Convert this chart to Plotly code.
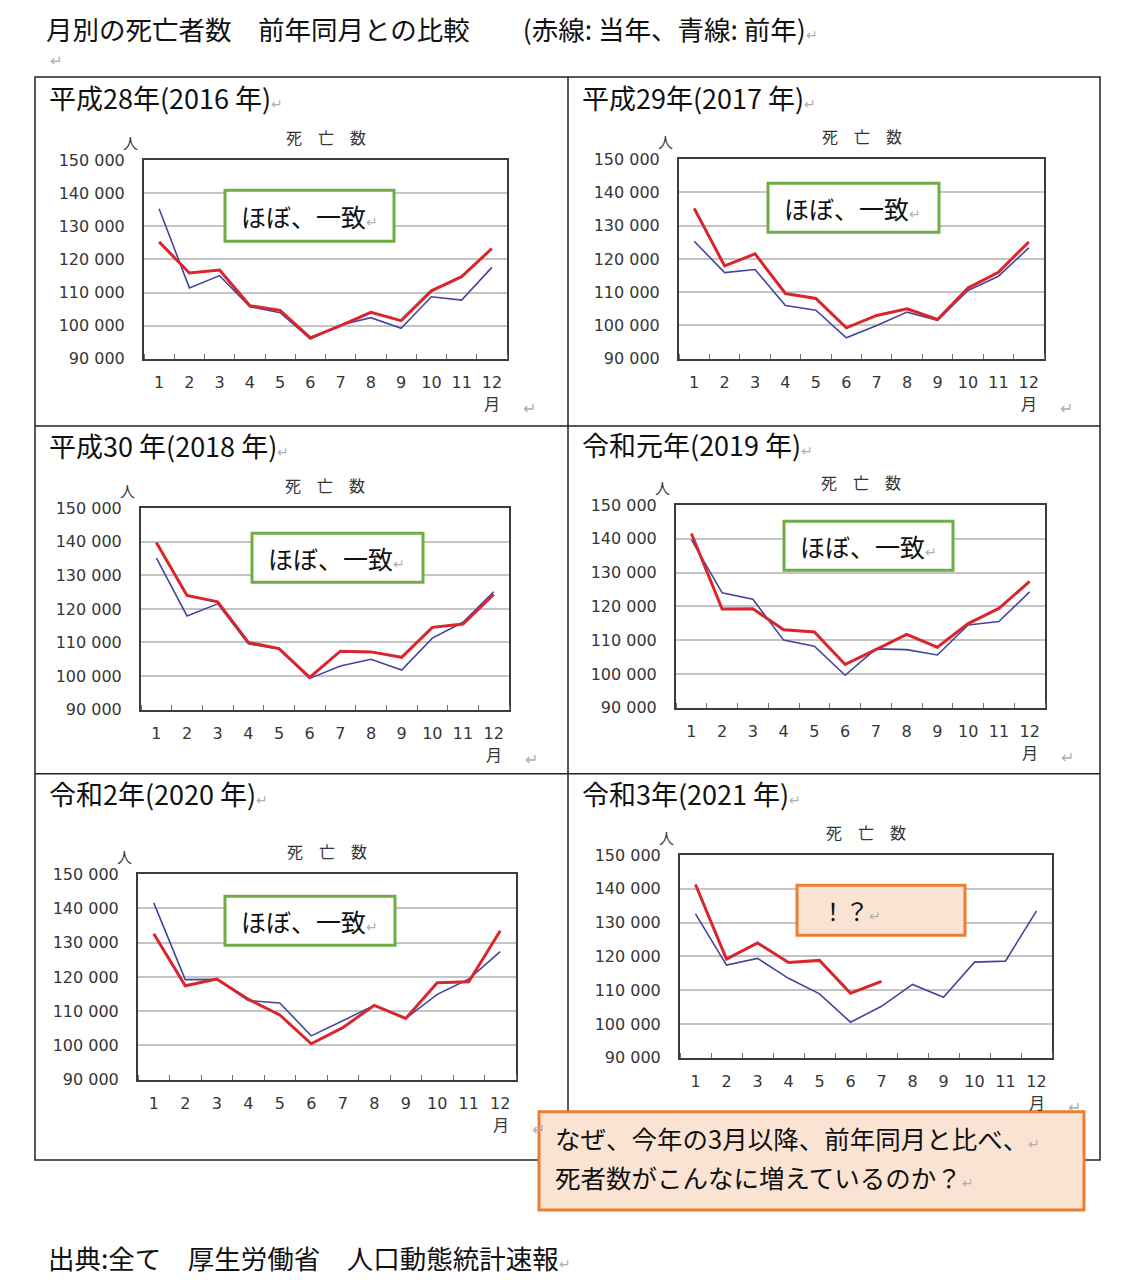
import plotly.graph_objects as go

# page has an 8px body margin; positions below are page pixels of the reference,
# and the vertical ones go through ym() which corrects for how the shot comes out
OFF = 8
W, H = 1142 - 2 * OFF, 1280

months = list(range(1, 13))

# monthly deaths (people)
d2015 = [135300, 111400, 115100, 105700, 103900, 95900, 100200, 102400, 99200, 108700, 107700, 117600]
d2016 = [125300, 115900, 116800, 106000, 104600, 96300, 100000, 104000, 101500, 110500, 114800, 123300]
d2017 = [135200, 117900, 121500, 109600, 108100, 99300, 103000, 105000, 101800, 111300, 116000, 125100]
d2018 = [139800, 124000, 122100, 110000, 108200, 99600, 107400, 107200, 105600, 114500, 115500, 124300]
d2019 = [141600, 119200, 119300, 113100, 112400, 102800, 107200, 111700, 107900, 114900, 119400, 127400]
d2020 = [132600, 117400, 119400, 113500, 108900, 100500, 105200, 111700, 107900, 118300, 118600, 133500]
d2021 = [141300, 119200, 124000, 118200, 118800, 109100, 112600]

panel_titles = ["平成28年(2016 年)", "平成29年(2017 年)", "平成30 年(2018 年)",
                "令和元年(2019 年)", "令和2年(2020 年)", "令和3年(2021 年)"]
box_texts = ["ほぼ、一致", "ほぼ、一致", "ほぼ、一致", "ほぼ、一致", "ほぼ、一致", "！？"]
current = [d2016, d2017, d2018, d2019, d2020, d2021]
previous = [d2015, d2016, d2017, d2018, d2019, d2020]

# layout in pixels: plot box, panel title pos, note box
panels = [
    dict(plot=(144, 163, 507, 361), title=(47, 101), box=(225, 193, 394, 244)),
    dict(plot=(679, 162, 1044, 361), title=(580, 101), box=(768, 186, 939, 235)),
    dict(plot=(141, 510, 509, 711), title=(47, 448), box=(252, 535, 423, 584)),
    dict(plot=(676, 507, 1045, 709), title=(580, 447), box=(784, 523, 953, 572)),
    dict(plot=(138, 875, 516, 1080), title=(47, 795), box=(225, 897, 395, 946)),
    dict(plot=(680, 856, 1052, 1058), title=(580, 795), box=(797, 886, 965, 936)),
]

FONT = "Noto Sans CJK JP"
NUM = "DejaVu Sans"
RED = "#d8262c"
BLUE = "#45459c"
GREEN = "#70ad47"
ORANGE = "#ed7d31"
PEACH = "#fbe3d4"
GREY = "#363636"
RET = '<span style="color:#b0b0b0;font-size:14px">↵</span>'


def ym(y):
    return (y - 12.4) / 0.9824


def px(x):
    return (x - OFF) / W


def py(y, raw=False):
    return 1 - ((y if raw else ym(y)) - OFF) / H


fig = go.Figure()
shapes = []
annotations = []


def note(x, y, text, size, color="#111111", anchor="left", family=FONT, raw=False):
    annotations.append(dict(x=px(x), y=py(y, raw), xref="paper", yref="paper",
                            xanchor=anchor, yanchor="middle", showarrow=False,
                            text=text, font=dict(family=family, size=size, color=color)))


for i, p in enumerate(panels):
    n = i + 1
    x0, y0, x1, y1 = p["plot"]
    xa = "x" if n == 1 else f"x{n}"
    ya = "y" if n == 1 else f"y{n}"

    fig.add_trace(go.Scatter(x=months[:len(previous[i])], y=previous[i], mode="lines",
                             line=dict(color=BLUE, width=1.6), xaxis=xa, yaxis=ya,
                             showlegend=False, hoverinfo="skip"))
    fig.add_trace(go.Scatter(x=months[:len(current[i])], y=current[i], mode="lines",
                             line=dict(color=RED, width=3), xaxis=xa, yaxis=ya,
                             showlegend=False, hoverinfo="skip"))

    axis_x = dict(domain=[px(x0), px(x1)], anchor=ya, range=[0.5, 12.5],
                  tickvals=months, ticks="", showgrid=False, zeroline=False,
                  showline=True, mirror=True, linecolor="#3c3c3c", linewidth=2,
                  tickfont=dict(family=NUM, size=16, color=GREY),
                  ticklabelstandoff=8,
                  minor=dict(ticks="inside", tick0=0.5, dtick=1, ticklen=5,
                             tickcolor="#707070", showgrid=False))
    axis_y = dict(domain=[py(y1), py(y0)], anchor=xa, range=[90000, 150000],
                  dtick=10000, tickformat=",d", ticks="", showgrid=True,
                  gridcolor="#c4c4c4", gridwidth=1.5, zeroline=False,
                  showline=True, mirror=True, linecolor="#3c3c3c", linewidth=2,
                  tickfont=dict(family=NUM, size=16, color=GREY),
                  ticklabelstandoff=14)
    fig.update_layout(**{("xaxis" if n == 1 else f"xaxis{n}"): axis_x,
                         ("yaxis" if n == 1 else f"yaxis{n}"): axis_y})

    # panel heading, chart title and units
    tx, ty = p["title"]
    note(tx, ty, panel_titles[i] + RET, 27)
    note((x0 + x1) / 2, y0 - 23, "死　亡　数", 16, GREY, "center")
    note(x0 - 14, y0 - 18, "人", 15, GREY, "center")
    note(x1 - 15, y1 + 44, "月", 16, GREY, "center")
    note(x1 + 22, y1 + 48, "↵", 16, "#b0b0b0", "center")

    # note box
    bx0, by0, bx1, by1 = p["box"]
    last = i == len(panels) - 1
    shapes.append(dict(type="rect", xref="paper", yref="paper",
                       x0=px(bx0), x1=px(bx1), y0=py(by1), y1=py(by0),
                       line=dict(color=ORANGE if last else GREEN, width=3),
                       fillcolor=PEACH if last else "white", layer="above"))
    if last:
        note(bx0 + 22, (by0 + by1) / 2, box_texts[i] + RET, 24)
    else:
        note(bx0 + 14, (by0 + by1) / 2, box_texts[i] + RET, 25)

# table frame
frame = dict(color="#222222", width=1.5)
shapes.append(dict(type="rect", xref="paper", yref="paper", x0=px(35), x1=px(1100),
                   y0=py(1160), y1=py(80), line=frame, layer="below"))
shapes.append(dict(type="line", xref="paper", yref="paper", x0=px(568), x1=px(568),
                   y0=py(1160), y1=py(80), line=frame, layer="below"))
for yy in (428, 775):
    shapes.append(dict(type="line", xref="paper", yref="paper", x0=px(35), x1=px(1100),
                       y0=py(yy), y1=py(yy), line=frame, layer="below"))

# big question box
shapes.append(dict(type="rect", xref="paper", yref="paper", x0=px(539), x1=px(1084),
                   y0=py(1210), y1=py(1112), line=dict(color=ORANGE, width=3),
                   fillcolor=PEACH, layer="above"))
note(553, 1138, "なぜ、今年の3月以降、前年同月と比べ、" + RET, 25.5)
note(553, 1177, "死者数がこんなに増えているのか？" + RET, 25.5)

# page heading and source
note(44, 20, "月別の死亡者数　前年同月との比較　　(赤線: 当年、青線: 前年)" + RET, 26.5, raw=True)
note(48, 63, "↵", 15, "#b0b0b0")
note(46, 1257, "出典:全て　厚生労働省　人口動態統計速報" + RET, 26.5)

fig.update_layout(width=W, height=H, margin=dict(l=0, r=0, t=0, b=0),
                  paper_bgcolor="white", plot_bgcolor="white",
                  separators=". ", shapes=shapes, annotations=annotations,
                  font=dict(family=FONT))

fig.write_html("out.html")
